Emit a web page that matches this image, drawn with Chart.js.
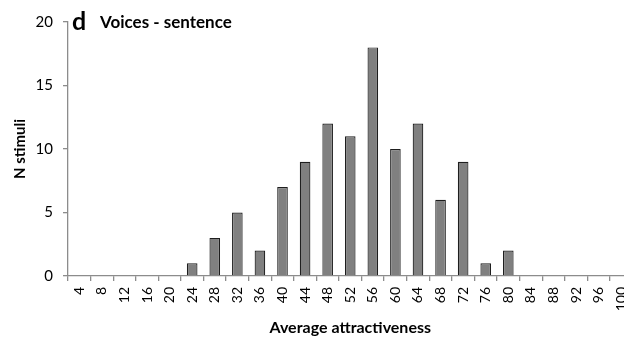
<!DOCTYPE html>
<html>
<head>
<meta charset="utf-8">
<script src="https://cdn.jsdelivr.net/npm/chart.js@4.4.1/dist/chart.umd.min.js"></script>
<style>
  html, body { margin: 0; padding: 0; background: #fff; overflow: hidden; }
  #wrap { position: relative; width: 644px; height: 342px; }
</style>
</head>
<body>
<div id="wrap"><canvas id="c" width="644" height="342"></canvas></div>
<script>
// Histogram of average attractiveness ratings for sentence voice stimuli
const categories = ['4','8','12','16','20','24','28','32','36','40','44','48','52',
                    '56','60','64','68','72','76','80','84','88','92','96','100'];
const counts = [0,0,0,0,0,1,3,5,2,7,9,12,11,18,10,12,6,9,1,2,0,0,0,0,0];
const yTicks = [0, 5, 10, 15, 20];

const axisGray = '#8c8c8c';
const FONT = 'Lato, "Open Sans", "Liberation Sans", sans-serif';

const panelTitle = {
  id: 'panelTitle',
  afterDraw(chart) {
    const ctx = chart.ctx;
    const left = chart.chartArea.left;
    ctx.save();
    ctx.fillStyle = '#000';
    ctx.textBaseline = 'alphabetic';
    ctx.textAlign = 'left';
    ctx.font = 'bold 25px ' + FONT;
    ctx.fillText('d', left + 4, 30);
    ctx.font = 'bold 17px ' + FONT;
    ctx.fillText('Voices - sentence', left + 32, 28);
    ctx.restore();
  }
};

new Chart(document.getElementById('c'), {
  type: 'bar',
  data: {
    labels: categories,
    datasets: [{
      data: counts,
      backgroundColor: '#808080',
      borderColor: '#1e1e1e',
      borderWidth: 1.2,
      barPercentage: 0.47,
      categoryPercentage: 1.0
    }]
  },
  options: {
    responsive: false,
    animation: false,
    devicePixelRatio: 1,
    layout: { padding: { top: 22, right: 0, left: 0, bottom: 0 } },
    plugins: { legend: { display: false }, tooltip: { enabled: false } },
    scales: {
      x: {
        offset: true,
        grid: {
          offset: true,
          drawOnChartArea: false,
          drawTicks: true,
          tickLength: 5,
          color: axisGray,
          lineWidth: 1.3
        },
        border: { color: axisGray, width: 1.3 },
        ticks: {
          minRotation: 90,
          maxRotation: 90,
          autoSkip: false,
          padding: 6,
          color: '#000',
          font: { family: FONT, size: 14 }
        },
        title: {
          display: true,
          text: 'Average attractiveness',
          color: '#000',
          font: { family: FONT, size: 16, weight: 'bold' },
          padding: { top: 10, bottom: 5 }
        },
        afterFit(scale) { scale.height = 66; }
      },
      y: {
        min: 0,
        max: 20,
        afterBuildTicks(scale) { scale.ticks = yTicks.map(v => ({ value: v })); },
        grid: {
          drawOnChartArea: false,
          drawTicks: true,
          tickLength: 5,
          color: axisGray,
          lineWidth: 1.3
        },
        border: { color: axisGray, width: 1.3 },
        ticks: {
          padding: 10,
          color: '#000',
          font: { family: FONT, size: 15 }
        },
        title: {
          display: true,
          text: 'N stimuli',
          color: '#000',
          font: { family: FONT, size: 15, weight: 'bold' },
          padding: { top: 11, bottom: 4 }
        },
        afterFit(scale) { scale.width = 68; }
      }
    }
  },
  plugins: [panelTitle]
});
</script>
</body>
</html>
